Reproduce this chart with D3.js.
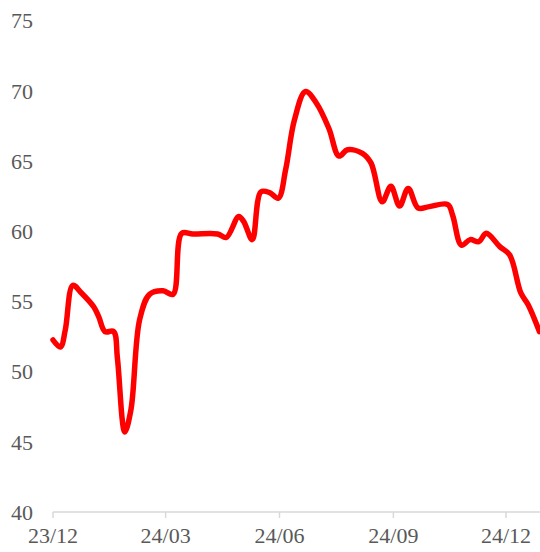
<!DOCTYPE html>
<html>
<head>
<meta charset="utf-8">
<script src="https://cdn.jsdelivr.net/npm/d3@7"></script>
<style>
  html, body { margin: 0; padding: 0; background: #fff; }
  svg { display: block; }
  text { font-family: "Liberation Serif", "DejaVu Serif", serif; fill: #595959; }
</style>
</head>
<body>
<svg id="chart" width="540" height="552"></svg>
<script>
// ---- data ----
const dates = [
  "2023-12-01","2023-12-07","2023-12-11","2023-12-17","2023-12-24","2024-01-03","2024-01-07",
  "2024-01-12","2024-01-19","2024-01-22","2024-01-28","2024-02-02","2024-02-09","2024-02-17",
  "2024-02-28","2024-03-07","2024-03-14","2024-03-23","2024-04-12","2024-04-19","2024-04-29",
  "2024-05-03","2024-05-10","2024-05-17","2024-05-24","2024-05-31","2024-06-06","2024-06-13",
  "2024-06-22","2024-07-01","2024-07-11","2024-07-19","2024-07-26","2024-08-07","2024-08-14",
  "2024-08-23","2024-08-30","2024-09-06","2024-09-13","2024-09-21","2024-09-30","2024-10-15",
  "2024-10-19","2024-10-26","2024-11-02","2024-11-09","2024-11-15","2024-11-26","2024-12-04",
  "2024-12-13","2024-12-19","2024-12-28"
];
const values = [
  52.25, 51.75, 53.0, 56.15, 55.6, 54.6, 53.9,
  52.85, 52.85, 51.0, 45.7, 47.3, 53.7, 55.5,
  55.75, 55.5, 59.85, 59.8, 59.8, 59.55, 61.05,
  60.7, 59.4, 62.8, 62.75, 62.35, 64.4, 67.9,
  69.95, 69.1, 67.3, 65.35, 65.8, 65.55, 64.85,
  62.1, 63.2, 61.8, 63.05, 61.65, 61.75, 61.9,
  61.1, 59.0, 59.4, 59.25, 59.85, 58.9, 58.3,
  55.6, 54.75, 52.85
];
const yTicks = [40, 45, 50, 55, 60, 65, 70, 75];
const xTickDates = ["2023-12-01","2024-03-01","2024-06-01","2024-09-01","2024-12-01"];
const xTickLabels = ["23/12","24/03","24/06","24/09","24/12"];

// ---- scales ----
const parse = d3.timeParse("%Y-%m-%d");
const data = dates.map((d, i) => ({ date: parse(d), value: values[i] }));

const svg = d3.select("#chart");
const x = d3.scaleTime()
  .domain([parse("2023-12-01"), parse("2024-12-01")])
  .range([53, 506]);
const y = d3.scaleLinear().domain([40, 75]).range([512, 20.6]);

// ---- y labels ----
svg.append("g")
  .selectAll("text")
  .data(yTicks)
  .join("text")
  .attr("x", 33)
  .attr("y", d => y(d))
  .attr("dy", "0.35em")
  .attr("text-anchor", "end")
  .style("font-size", "22px")
  .text(d => d);

// ---- x axis ----
const xAxisG = svg.append("g").attr("transform", `translate(0,${y(40)})`);
xAxisG.append("line")
  .attr("x1", x(parse("2023-12-01")))
  .attr("x2", 540)
  .attr("stroke", "#d9d9d9")
  .attr("stroke-width", 1.5);
const tickData = xTickDates.map((d, i) => ({ date: parse(d), label: xTickLabels[i] }));
xAxisG.selectAll("line.tick")
  .data(tickData)
  .join("line")
  .attr("class", "tick")
  .attr("x1", d => x(d.date))
  .attr("x2", d => x(d.date))
  .attr("y1", 0)
  .attr("y2", 6)
  .attr("stroke", "#d9d9d9")
  .attr("stroke-width", 1.5);
xAxisG.selectAll("text")
  .data(tickData)
  .join("text")
  .attr("x", d => x(d.date))
  .attr("y", 31)
  .attr("text-anchor", "middle")
  .style("font-size", "22px")
  .text(d => d.label);

// ---- line ----
const line = d3.line()
  .x(d => x(d.date))
  .y(d => y(d.value))
  .curve(d3.curveCatmullRom.alpha(0.5));

svg.append("path")
  .datum(data)
  .attr("fill", "none")
  .attr("stroke", "#ff0000")
  .attr("stroke-width", 5.5)
  .attr("stroke-linejoin", "round")
  .attr("stroke-linecap", "round")
  .attr("d", line);
</script>
</body>
</html>
